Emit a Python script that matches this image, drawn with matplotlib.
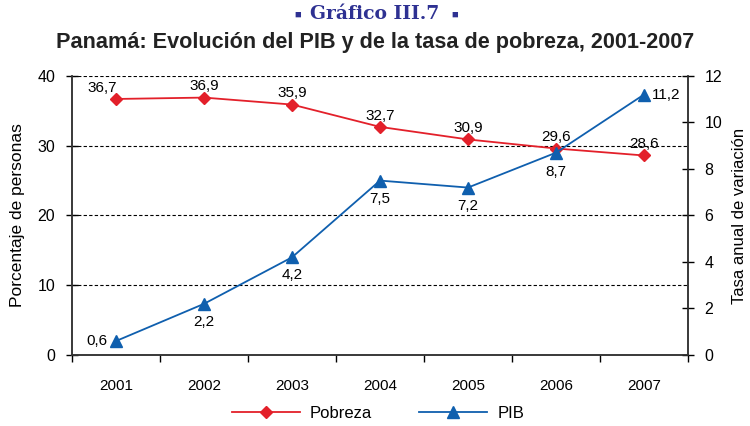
import numpy as np
import matplotlib.pyplot as plt
from matplotlib.lines import Line2D

plt.rcParams["font.family"] = ["Liberation Sans", "DejaVu Sans"]

years = ["2001", "2002", "2003", "2004", "2005", "2006", "2007"]
pobreza = [36.7, 36.9, 35.9, 32.7, 30.9, 29.6, 28.6]
pib = [0.6, 2.2, 4.2, 7.5, 7.2, 8.7, 11.2]

red = "#e3202a"
blue = "#0f5fae"

fig = plt.figure(figsize=(7.5, 4.26), dpi=100)
ax = fig.add_axes([0.096, 0.1667, 0.8213, 0.655])
ax2 = ax.twinx()

x = np.arange(len(years))

ax.plot(x, pobreza, color=red, marker="D", markersize=6, lw=1.3, zorder=3)
ax2.plot(x, pib, color=blue, marker="^", markersize=8, lw=1.3, zorder=3)

ax.set_xlim(-0.5, 6.5)
ax.set_ylim(0, 40)
ax2.set_ylim(0, 12)
ax.set_yticks([0, 10, 20, 30, 40])
ax2.set_yticks(range(0, 13, 2))
for v in [10, 20, 30, 40]:
    ax.axhline(v, color="black", lw=0.8, ls=(0, (3, 2)), zorder=1)

ax.set_xticks(x)
ax.set_xticklabels(years)
ax.set_xticks(np.arange(-0.5, 7, 1), minor=True)
ax.tick_params(axis="x", which="major", length=0, pad=17, labelsize=11)
ax.tick_params(axis="x", which="minor", length=5, width=1, direction="out")
ax.tick_params(axis="y", direction="inout", length=8, width=1, labelsize=11.5, pad=8)
ax2.tick_params(axis="y", direction="inout", length=8, width=1, labelsize=11.5, pad=8)

for a in (ax, ax2):
    a.spines["top"].set_visible(False)
    for s in ("left", "right", "bottom"):
        a.spines[s].set_linewidth(1.1)
        a.spines[s].set_color("#333333")

ax.set_ylabel("Porcentaje de personas", fontsize=12.5, labelpad=9)
ax2.set_ylabel("Tasa anual de variación", fontsize=12, labelpad=7)

for i, v in enumerate(pobreza):
    dx = -10 if i == 0 else 0
    ax.annotate(f"{v:.1f}".replace(".", ","), (i, v), xytext=(dx, 3),
                textcoords="offset points", ha="center", va="bottom", fontsize=11)

offsets = [(-6, 0, "right", "center"), (0, -8, "center", "top"), (0, -8, "center", "top"),
           (0, -8, "center", "top"), (0, -8, "center", "top"), (0, -9, "center", "top"),
           (6, 0, "left", "center")]
for i, v in enumerate(pib):
    dx, dy, ha, va = offsets[i]
    ax2.annotate(f"{v:.1f}".replace(".", ","), (i, v), xytext=(dx, dy),
                 textcoords="offset points", ha=ha, va=va, fontsize=11)

fig.text(0.5, 0.968, "Gráfico III.7", ha="center", va="center",
         fontsize=13.5, fontweight="bold", family="DejaVu Serif", color="#2e3192")
for sx in (0.397, 0.607):
    fig.text(sx, 0.965, "■", ha="center", va="center", fontsize=8, color="#2e3192")
fig.text(0.5, 0.9, "Panamá: Evolución del PIB y de la tasa de pobreza, 2001-2007",
         ha="center", va="center", fontsize=15.6, fontweight="bold", color="#222222")

handles = [Line2D([], [], color=red, marker="D", markersize=6, lw=1.3),
           Line2D([], [], color=blue, marker="^", markersize=8, lw=1.3)]
fig.legend(handles, ["Pobreza", "PIB"], loc="center", bbox_to_anchor=(0.504, 0.03),
           ncol=2, frameon=False, fontsize=12, handlelength=4.1, handletextpad=0.6,
           columnspacing=2.8)

fig.savefig("out.png", dpi=100)
